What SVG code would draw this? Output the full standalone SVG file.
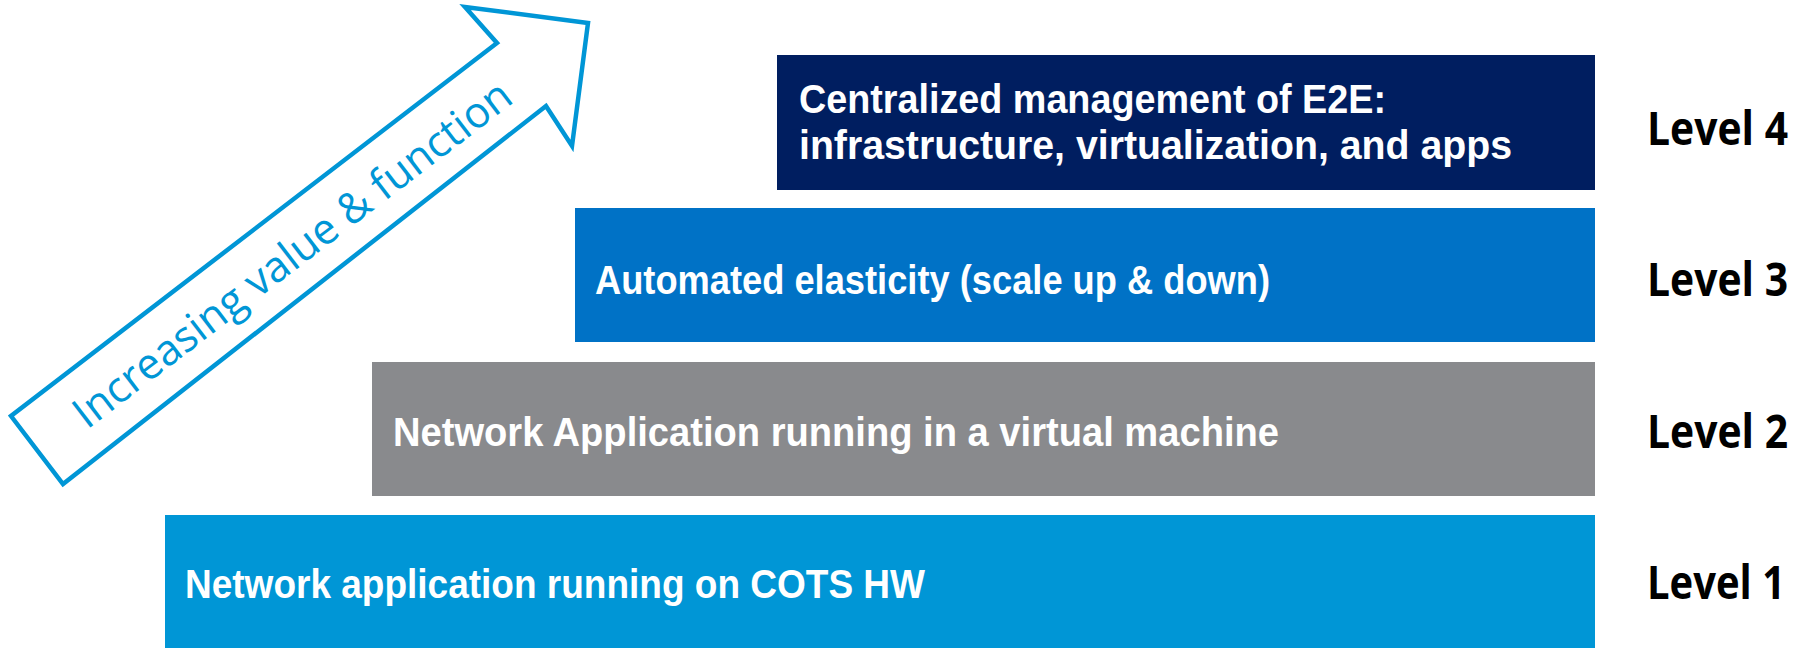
<svg xmlns="http://www.w3.org/2000/svg" width="1806" height="648" viewBox="0 0 1806 648">
<style>
.box-text{font-family:"Liberation Sans",Arial,sans-serif;font-weight:bold;font-size:40px;fill:#ffffff}
.level{font-family:"Open Sans","Liberation Sans",sans-serif;font-weight:bold;font-size:46px;fill:#000000}
.arrow-text{font-family:"Open Sans","Liberation Sans",sans-serif;font-size:43px;fill:#0096D6}
</style>
<rect width="1806" height="648" fill="#ffffff"/>
<g id="arrow">
<polygon points="588,23 465,7 497,43 11,416 63,484 546,106 572,146" fill="#ffffff" stroke="#0096D6" stroke-width="4.5" stroke-linejoin="miter"/>
<text class="arrow-text" transform="translate(87,430) rotate(-37.5)" textLength="540" lengthAdjust="spacingAndGlyphs">Increasing value &amp; function</text>
</g>
<g id="level4">
<rect x="777" y="55" width="818" height="135" fill="#001E60"/>
<text class="box-text" x="799" y="113" textLength="587" lengthAdjust="spacingAndGlyphs">Centralized management of E2E:</text>
<text class="box-text" x="799" y="159" textLength="713" lengthAdjust="spacingAndGlyphs">infrastructure, virtualization, and apps</text>
<text class="level" x="1647" y="145" textLength="141" lengthAdjust="spacingAndGlyphs">Level 4</text>
</g>
<g id="level3">
<rect x="575" y="208" width="1020" height="134" fill="#0072C6"/>
<text class="box-text" x="595" y="294" textLength="675" lengthAdjust="spacingAndGlyphs">Automated elasticity (scale up &amp; down)</text>
<text class="level" x="1647" y="296" textLength="141" lengthAdjust="spacingAndGlyphs">Level 3</text>
</g>
<g id="level2">
<rect x="372" y="362" width="1223" height="134" fill="#898A8D"/>
<text class="box-text" x="393" y="446" textLength="886" lengthAdjust="spacingAndGlyphs">Network Application running in a virtual machine</text>
<text class="level" x="1647" y="448" textLength="141" lengthAdjust="spacingAndGlyphs">Level 2</text>
</g>
<g id="level1">
<rect x="165" y="515" width="1430" height="133" fill="#0096D6"/>
<text class="box-text" x="185" y="598" textLength="740" lengthAdjust="spacingAndGlyphs">Network application running on COTS HW</text>
<text class="level" x="1647" y="599" textLength="138" lengthAdjust="spacingAndGlyphs">Level 1</text>
</g>
<g id="connectors"></g>
</svg>
